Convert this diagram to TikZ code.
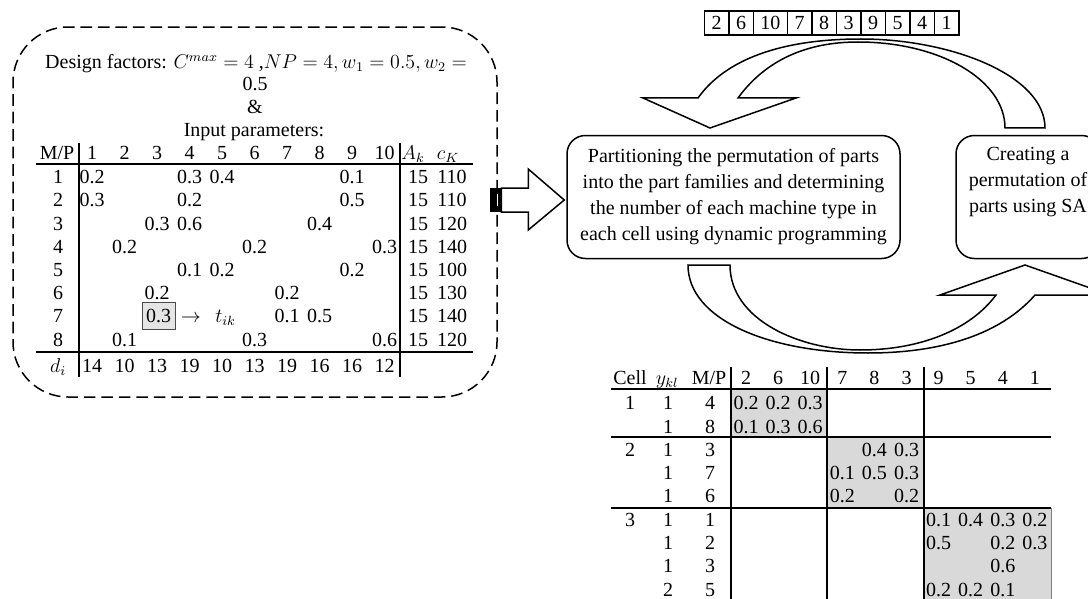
\documentclass[tikz,border=0pt]{standalone}
\usepackage{fontspec}
\setmainfont{Liberation Serif}
\usetikzlibrary{positioning,calc}

\begin{document}
\begin{tikzpicture}[x=0.6pt,y=-0.6pt,
    num/.style={inner sep=0pt, text height=8.1pt, text depth=0pt, font=\fontsize{12}{14}\selectfont},
    perm/.style={num, draw, line width=0.9pt, outer sep=0pt, inner xsep=4.2pt, minimum width=14.7pt, minimum height=14.4pt},
    proc/.style={draw, line width=0.9pt, rounded corners=11pt, align=center, inner sep=0pt, font=\fontsize{12}{15.6}\selectfont},
    dashbox/.style={draw, line width=0.9pt, dash pattern=on 7pt off 3.5pt, rounded corners=33pt},
    blk/.style={draw, fill=white, line width=0.9pt, line join=miter},
    rule/.style={line width=1.3pt},
    shade/.style={fill=black!15, draw=black!50, line width=0.5pt}
]
    \useasboundingbox (0,0) rectangle (1088,599);
    \clip (0,0) rectangle (1088,599);

    % Input box
    \node[dashbox, minimum width=290.4pt, minimum height=222pt] (inbox) at (255,212) {};
    \node[num] (design) at (256,62) {Design factors: $C^{max}=4$ ,$NP=4, w_1=0.5, w_2=$};
    \node[num] (wtwo) at (255,84) {0.5};
    \node[num] (amp) at (255,107) {\&};
    \node[num] (inpar) at (254,130) {Input parameters:};

    % Input matrix
    \node[num] (mphead) at (57,153) {M/P};
    \foreach \c in {1,...,10}
        \node[num] (part\c) at ({92+32.5*(\c-1)},153) {\c};
    \node[num] (ahead) at (413,153) {$A_k$};
    \node[num] (chead) at (448,153) {$c_K$};
    \foreach \r/\vals/\cost in {
        1/{1/0.2,4/0.3,5/0.4,9/0.1}/110,
        2/{1/0.3,4/0.2,9/0.5}/110,
        3/{3/0.3,4/0.6,8/0.4}/120,
        4/{2/0.2,6/0.2,10/0.3}/140,
        5/{4/0.1,5/0.2,9/0.2}/100,
        6/{3/0.2,7/0.2}/130,
        7/{7/0.1,8/0.5}/140,
        8/{2/0.1,6/0.3,10/0.6}/120}{
        \pgfmathsetmacro\yy{177+23.2*(\r-1)}
        \node[num] (mach\r) at (58,\yy) {\r};
        \foreach \c/\v in \vals
            \node[num] at ({92+32.5*(\c-1)},\yy) {\v};
        \node[num] at (418,\yy) {15};
        \node[num] at (452,\yy) {\cost};
    }
    \node[num, draw=black!70, fill=black!10, line width=0.6pt, minimum width=19.8pt, minimum height=16.2pt] (tsel) at (158.5,316.2) {0.3};
    \node[num, right=3pt of tsel] (tlab) {$\rightarrow\;\, t_{ik}$};
    \node[num] (dhead) at (58,366) {$d_i$};
    \foreach \d [count=\c] in {14,10,13,19,10,13,19,16,16,12}
        \node[num] (dem\c) at ({92+32.5*(\c-1)},366) {\d};
    \draw[rule] (36,164) -- (473,164);
    \draw[rule] (36,352) -- (473,352);
    \draw[rule] (79,143) -- (79,377);
    \draw[rule] (400,143) -- (400,377);

    % Block arrow into the DP box
    \node[proc, minimum width=199.8pt, minimum height=73.8pt] (part) at (733.5,197)
        {Partitioning the permutation of parts\\into the part families and determining\\the number of each machine type in\\each cell using dynamic programming};
    \draw[blk, shift={(part.west)}] (-65,-9) -- (-38,-9) -- (-38,-28) -- (-2,3) -- (-38,33) -- (-38,15) -- (-65,15) -- cycle;
    \fill[black] (490,188) rectangle (502,212);
    \draw[white, line width=0.6pt] (497,194) -- (497,206);

    % SA box
    \node[proc, minimum width=86.4pt, minimum height=73.8pt] (create) at (1028,197) {};
    \node[proc, draw=none] (createtxt) at (1028,182) {Creating a\\permutation of\\parts using SA};

    % Permutation
    \node[perm] (q1) at (716.5,23) {2};
    \foreach \p [count=\i from 2, remember=\i as \j (initially 1)] in {6,10,7,8,3,9,5,4,1}
        \node[perm, right=0pt of q\j] (q\i) {\p};

    % Curved arrows
    \draw[blk] (1005,128) -- (1045,128) .. controls (1045,75) and (950,39) .. (861,39)
        .. controls (780,39) and (725,60) .. (698,98) -- (643,98) -- (710,128) -- (796,98) -- (738,98)
        .. controls (762,65) and (800,42) .. (858,42) .. controls (940,42) and (1005,80) .. (1005,128) -- cycle;
    \draw[blk] (688,265) -- (730,265) .. controls (730,320) and (800,350) .. (860,350)
        .. controls (920,350) and (970,330) .. (996,295) -- (940,295) -- (1025,265) -- (1110,295) -- (1035,295)
        .. controls (1000,335) and (940,353) .. (868,353) .. controls (770,353) and (688,320) .. (688,265) -- cycle;

    % Result matrix
    \fill[shade] (731,389) rectangle (827,437);
    \fill[shade] (827,437) rectangle (924,508);
    \fill[shade] (924,508) rectangle (1051,605);
    \node[num] (cellhead) at (630,378) {Cell};
    \node[num] (yhead) at (667,378) {$y_{kl}$};
    \node[num] (mphead2) at (709,378) {M/P};
    \foreach \p [count=\c] in {2,6,10,7,8,3,9,5,4,1}
        \node[num] (col\c) at ({746+32.1*(\c-1)},378) {\p};
    \foreach \r/\cl in {1/1,3/2,6/3}
        \node[num] (cell\cl) at (630,{403+23.3*(\r-1)}) {\cl};
    \foreach \r/\yk/\mp/\vals in {
        1/1/4/{1/0.2,2/0.2,3/0.3},
        2/1/8/{1/0.1,2/0.3,3/0.6},
        3/1/3/{5/0.4,6/0.3},
        4/1/7/{4/0.1,5/0.5,6/0.3},
        5/1/6/{4/0.2,6/0.2},
        6/1/1/{7/0.1,8/0.4,9/0.3,10/0.2},
        7/1/2/{7/0.5,9/0.2,10/0.3},
        8/1/3/{9/0.6},
        9/2/5/{7/0.2,8/0.2,9/0.1}}{
        \pgfmathsetmacro\yy{403+23.3*(\r-1)}
        \node[num] (yk\r) at (668,\yy) {\yk};
        \node[num] (mp\r) at (710,\yy) {\mp};
        \foreach \c/\v in \vals
            \node[num] at ({746+32.1*(\c-1)},\yy) {\v};
    }
    \draw[rule] (611,389) -- (1051,389);
    \draw[rule] (611,437) -- (1051,437);
    \draw[rule] (611,508) -- (1051,508);
    \foreach \xx in {731,827,924}
        \draw[rule] (\xx,367) -- (\xx,605);
\end{tikzpicture}
\end{document}
